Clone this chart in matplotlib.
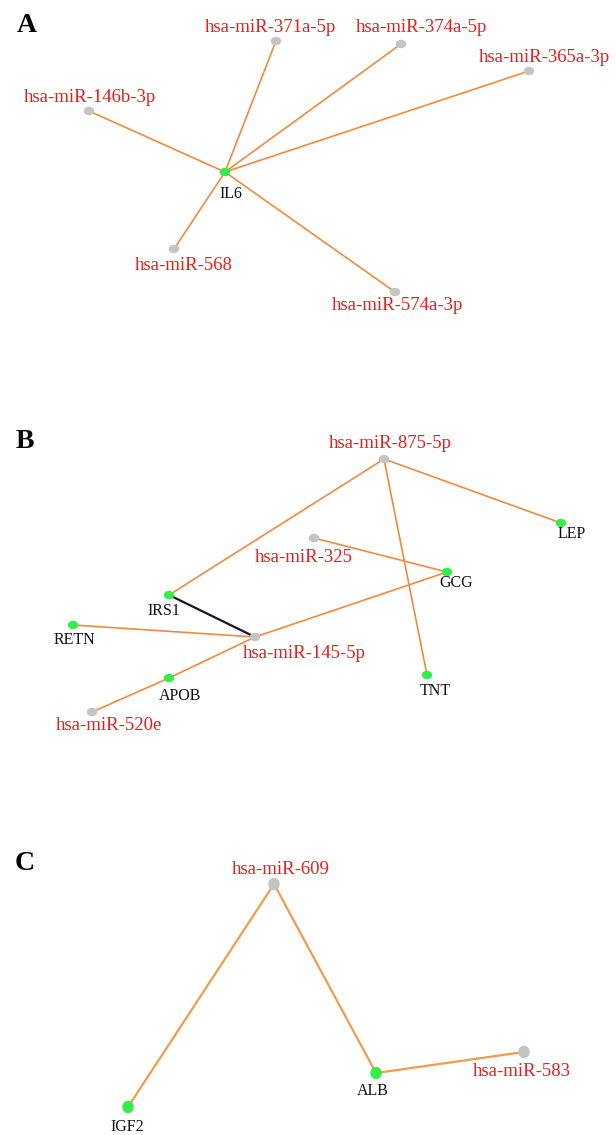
import matplotlib.pyplot as plt
from matplotlib.patches import Ellipse

# node layouts (pixel units, y grows downward)
panel_letters = ['A', 'B', 'C']
letter_pos = [(27, 26), (25, 441), (25, 863)]

# panel A
a_names = ['IL6', 'hsa-miR-371a-5p', 'hsa-miR-374a-5p', 'hsa-miR-365a-3p',
           'hsa-miR-146b-3p', 'hsa-miR-568', 'hsa-miR-574a-3p']
a_x = [225, 276, 401, 529, 89, 174, 395]
a_y = [172, 41, 44, 71, 111, 249, 292]
a_lab_x = [231, 270, 421, 544, 90, 184, 397]
a_lab_y = [194, 27, 27, 57, 98, 266, 305]
a_gene = [True, False, False, False, False, False, False]
a_edges = [(0, 1), (0, 2), (0, 3), (0, 4), (0, 5), (0, 6)]

# panel B
b_names = ['hsa-miR-875-5p', 'LEP', 'hsa-miR-325', 'GCG', 'IRS1', 'RETN',
           'hsa-miR-145-5p', 'APOB', 'hsa-miR-520e', 'TNT']
b_x = [384, 561, 314, 447, 169, 73, 255, 169, 92, 427]
b_y = [459, 523, 538, 572, 595, 625, 637, 678, 712, 675]
b_lab_x = [390, 572, 304, 456, 164, 74, 304, 180, 109, 435]
b_lab_y = [444, 534, 557, 583, 611, 640, 653, 696, 725, 691]
b_gene = [False, True, False, True, True, True, False, True, False, True]
b_edges = [(0, 4), (0, 9), (0, 1), (2, 3), (5, 6), (3, 6), (7, 6), (8, 7), (4, 6)]
b_edge_dark = [False, False, False, False, False, False, False, False, True]

# panel C
c_names = ['hsa-miR-609', 'IGF2', 'ALB', 'hsa-miR-583']
c_x = [274, 128, 376, 524]
c_y = [884, 1107, 1073, 1052]
c_lab_x = [281, 127, 373, 522]
c_lab_y = [869, 1127, 1091, 1071]
c_gene = [False, True, True, False]
c_edges = [(0, 1), (0, 2), (2, 3)]

GREEN = '#33ee4a'
GRAY = '#c4c4c4'
ORANGE = '#f28a3c'
RED = '#f01a1a'
SERIF = 'Liberation Serif'

fig = plt.figure(figsize=(6.16, 11.35), dpi=100)
ax = fig.add_axes([0, 0, 1, 1])
ax.set_xlim(0, 616)
ax.set_ylim(1135, 0)
ax.set_aspect('auto')
ax.axis('off')


def draw_panel(names, xs, ys, lx, ly, gene, edges, dark=None,
               lw=1.2, ecolor=ORANGE, node_w=9, node_h=7):
    for k, (i, j) in enumerate(edges):
        col = '#1c0f2e' if (dark and dark[k]) else ecolor
        w = 1.6 if (dark and dark[k]) else lw
        ax.plot([xs[i], xs[j]], [ys[i], ys[j]], color=col, lw=w,
                solid_capstyle='round', zorder=1)
    for n, x, y, tx, ty, g in zip(names, xs, ys, lx, ly, gene):
        ax.add_patch(Ellipse((x, y), node_w, node_h,
                             color=GREEN if g else GRAY, zorder=2))
        if g:
            ax.text(tx, ty, n, color='#111111', fontsize=11.5, family=SERIF,
                    ha='center', va='center', zorder=3)
        else:
            ax.text(tx, ty, n, color=RED, fontsize=13.5, family=SERIF,
                    ha='center', va='center', zorder=3)


draw_panel(a_names, a_x, a_y, a_lab_x, a_lab_y, a_gene, a_edges)
draw_panel(b_names, b_x, b_y, b_lab_x, b_lab_y, b_gene, b_edges, dark=b_edge_dark)
draw_panel(c_names, c_x, c_y, c_lab_x, c_lab_y, c_gene, c_edges,
           lw=1.6, ecolor='#f39a4c', node_w=10, node_h=11)

for letter, (x, y) in zip(panel_letters, letter_pos):
    ax.text(x, y, letter, fontsize=20, fontweight='bold', family=SERIF,
            ha='center', va='center')

fig.savefig('out.png', dpi=100)
